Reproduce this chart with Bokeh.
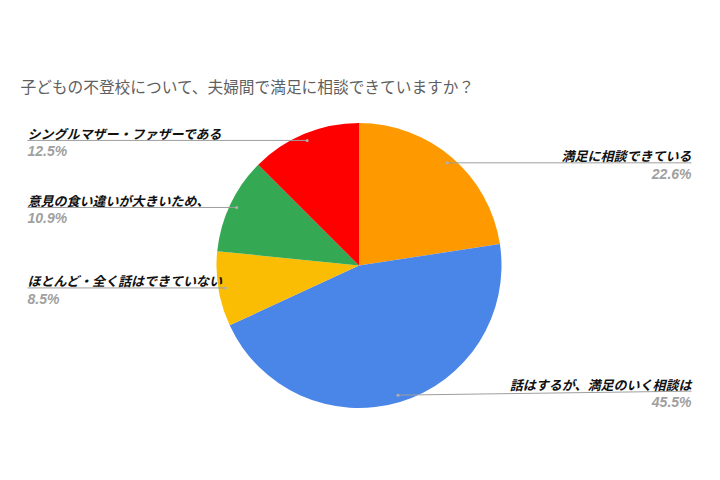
import math
from bokeh.plotting import figure
from bokeh.models import Range1d, ColumnDataSource
from bokeh.core.properties import value
from bokeh.embed import file_html
from bokeh.resources import INLINE

# ---- data ----
categories = ["満足に相談できている", "話はするが、満足のいく相談は", "ほとんど・全く話はできていない",
              "意見の食い違いが大きいため、", "シングルマザー・ファザーである"]
values = [22.6, 45.5, 8.5, 10.9, 12.5]
colors = ["#FF9900", "#4A86E8", "#FBBC04", "#34A853", "#FF0000"]
title = "子どもの不登校について、夫婦間で満足に相談できていますか？"

# ---- layout (screen-like coordinates; y is flipped below) ----
W, H = 704, 464
CX, CY, R = 358.5, 265.0, 142.5
LEFT_X, RIGHT_X = 27, 691
label_dy = [0, -4, 0, 0, 0]

def Y(s):
    return 480 - s

p = figure(width=W, height=H, output_backend="svg", toolbar_location=None,
           x_range=Range1d(0, W), y_range=Range1d(480 - H, 480),
           min_border=0)
p.axis.visible = False
p.grid.visible = False
p.outline_line_color = None
p.background_fill_color = "white"

total = sum(values)
starts, ends, mids = [], [], []
cum = 0.0
for v in values:
    a0 = math.pi / 2 - 2 * math.pi * (cum + v) / total
    a1 = math.pi / 2 - 2 * math.pi * cum / total
    starts.append(a0)
    ends.append(a1)
    mids.append((a0 + a1) / 2)
    cum += v

src = ColumnDataSource(dict(start=starts, end=ends, color=colors))
p.wedge(x=CX, y=Y(CY), radius=R, start_angle="start", end_angle="end",
        fill_color="color", line_color=None, source=src)

# leader lines and labels
dot_x, dot_y, lx, ly, txt_x, txt_y, aligns, pct, names = [], [], [], [], [], [], [], [], []
for i, m in enumerate(mids):
    dx = CX + 0.95 * R * math.cos(m)
    dy = Y(CY) + 0.95 * R * math.sin(m)
    dot_x.append(dx)
    dot_y.append(dy)
    line_y = dy - label_dy[i]
    side = RIGHT_X if math.cos(m) > 0 else LEFT_X
    lx.append([dx, side])
    ly.append([dy, line_y])
    txt_x.append(side)
    txt_y.append(line_y)
    aligns.append("right" if side == RIGHT_X else "left")
    pct.append(f"{values[i]:.1f}%")
    names.append(categories[i])

p.multi_line(xs=lx, ys=ly, line_color="#9e9e9e", line_width=1)
p.scatter(x=dot_x, y=dot_y, size=3, color="#b0b0b0", line_color=None)

lsrc = ColumnDataSource(dict(x=txt_x, y=txt_y, name=names, pct=pct, align=aligns,
                             ty=[y + 7 for y in txt_y], py=[y - 3 for y in txt_y]))
p.text(x="x", y="ty", text="name", text_align="align", text_baseline="alphabetic",
       text_font=value("Noto Sans CJK JP"), text_font_size="13px",
       text_font_style="bold italic", text_color="#111111", source=lsrc)
p.text(x="x", y="py", text="pct", text_align="align", text_baseline="top",
       text_font=value("Liberation Sans"), text_font_size="14px",
       text_font_style="bold italic", text_color="#a0a0a0", source=lsrc)

p.text(x=[20], y=[Y(86)], text=[title], text_align="left", text_baseline="middle",
       text_font=value("Noto Sans CJK JP"), text_font_size="15.7px",
       text_color="#5f5f5f")

open("out.html", "w").write(file_html(p, INLINE))
